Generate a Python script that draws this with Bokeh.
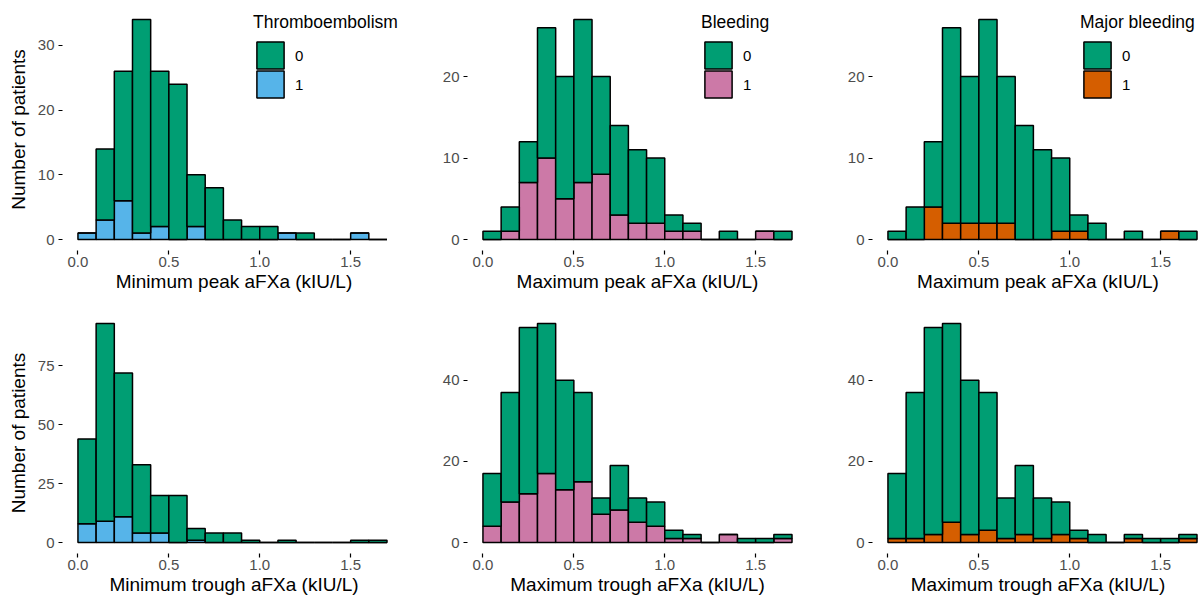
import numpy as np
from bokeh.plotting import figure
from bokeh.layouts import column, row
from bokeh.models import Range1d, FixedTicker, PrintfTickFormatter, Legend, LegendItem, ColumnDataSource
from bokeh.embed import file_html
from bokeh.resources import INLINE

# ---------------- data ----------------
bin_left = [0.0, 0.1, 0.2, 0.3, 0.4, 0.5, 0.6, 0.7, 0.8, 0.9, 1.0, 1.1, 1.2, 1.3, 1.4, 1.5, 1.6]
bin_width = 0.1
x_ticks = [0.0, 0.5, 1.0, 1.5]

# Minimum peak aFXa, Thromboembolism
min_peak_te0 = [0, 11, 20, 33, 24, 24, 8, 8, 3, 2, 2, 0, 1, 0, 0, 0, 0]
min_peak_te1 = [1, 3, 6, 1, 2, 0, 2, 0, 0, 0, 0, 1, 0, 0, 0, 1, 0]
# Maximum peak aFXa, Bleeding
max_peak_bl0 = [1, 3, 5, 16, 15, 20, 12, 11, 9, 8, 2, 1, 0, 1, 0, 0, 1]
max_peak_bl1 = [0, 1, 7, 10, 5, 7, 8, 3, 2, 2, 1, 1, 0, 0, 0, 1, 0]
# Maximum peak aFXa, Major bleeding
max_peak_mb0 = [1, 4, 8, 24, 18, 25, 18, 14, 11, 9, 2, 2, 0, 1, 0, 0, 1]
max_peak_mb1 = [0, 0, 4, 2, 2, 2, 2, 0, 0, 1, 1, 0, 0, 0, 0, 1, 0]
# Minimum trough aFXa, Thromboembolism
min_trough_te0 = [36, 84, 61, 29, 16, 20, 5, 4, 4, 1, 0, 1, 0, 0, 0, 1, 1]
min_trough_te1 = [8, 9, 11, 4, 4, 0, 1, 0, 0, 0, 0, 0, 0, 0, 0, 0, 0]
# Maximum trough aFXa, Bleeding
max_trough_bl0 = [13, 27, 41, 37, 27, 22, 4, 11, 6, 6, 2, 1, 0, 0, 1, 1, 1]
max_trough_bl1 = [4, 10, 12, 17, 13, 15, 7, 8, 5, 4, 1, 1, 0, 2, 0, 0, 1]
# Maximum trough aFXa, Major bleeding
max_trough_mb0 = [16, 36, 51, 49, 38, 34, 10, 17, 10, 8, 2, 2, 0, 1, 1, 1, 1]
max_trough_mb1 = [1, 1, 2, 5, 2, 3, 1, 2, 1, 2, 1, 0, 0, 1, 0, 0, 1]

y_ticks_r1c1 = [0, 10, 20, 30]
y_ticks_r1c2 = [0, 10, 20]
y_ticks_r2c1 = [0, 25, 50, 75]
y_ticks_r2c2 = [0, 20, 40]

legend_labels = ["0", "1"]
outcome_titles = ["Thromboembolism", "Bleeding", "Major bleeding"]
x_titles = ["Minimum peak aFXa (kIU/L)", "Maximum peak aFXa (kIU/L)", "Maximum peak aFXa (kIU/L)",
            "Minimum trough aFXa (kIU/L)", "Maximum trough aFXa (kIU/L)", "Maximum trough aFXa (kIU/L)"]
y_title = "Number of patients"

# ---------------- style ----------------
GREEN = "#009E73"
BLUE = "#56B4E9"
PINK = "#CC79A7"
ORANGE = "#D55E00"
FONT = "Liberation Sans"
PX_PER_UNIT = 181.8
X_MAX = 1.7


def legend_common():
    return dict(label_text_font=FONT, label_text_font_size="15px", label_text_color="black",
                glyph_width=34, glyph_height=34, spacing=0,
                label_standoff=8, padding=0, margin=0,
                border_line_color=None, background_fill_alpha=0)


def make_panel(g0, g1, fill1, xlabel, ylabel, yticks, width, height, mb_left, mb_right, mb_top, mb_bottom,
               legend_title=None, legend_x=None, legend_y=None):
    g0 = np.array(g0, dtype=float)
    g1 = np.array(g1, dtype=float)
    total = g0 + g1
    ymax = total.max()
    xs = np.array(bin_left) + bin_width / 2
    frame_w = width - mb_left - mb_right
    x_start = -0.05 * X_MAX
    x_end = x_start + frame_w / PX_PER_UNIT
    p = figure(width=width, height=height,
               x_range=Range1d(x_start, x_end),
               y_range=Range1d(-0.05 * ymax, 1.05 * ymax),
               output_backend="svg", toolbar_location=None,
               min_border_left=mb_left, min_border_right=mb_right,
               min_border_top=mb_top, min_border_bottom=mb_bottom)
    p.outline_line_color = None
    p.xgrid.visible = False
    p.ygrid.visible = False
    p.background_fill_color = "white"

    src = ColumnDataSource(dict(x=xs, b1=np.zeros_like(g1), t1=g1, b0=g1, t0=total))
    r1 = p.vbar(x="x", width=bin_width, bottom="b1", top="t1", source=src,
                fill_color=fill1, line_color="black", line_width=1.5)
    r0 = p.vbar(x="x", width=bin_width, bottom="b0", top="t0", source=src,
                fill_color=GREEN, line_color="black", line_width=1.5)

    for ax in (p.xaxis[0], p.yaxis[0]):
        ax.axis_line_color = None
        ax.major_tick_line_color = "black"
        ax.major_tick_line_width = 1.2
        ax.major_tick_in = 0
        ax.major_tick_out = 4
        ax.minor_tick_line_color = None
        ax.major_label_text_font = FONT
        ax.major_label_text_font_size = "15px"
        ax.major_label_text_color = "#4D4D4D"
        ax.axis_label_text_font = FONT
        ax.axis_label_text_font_size = "19px"
        ax.axis_label_text_font_style = "normal"
        ax.axis_label_text_color = "black"

    p.xaxis.ticker = FixedTicker(ticks=x_ticks)
    p.xaxis.formatter = PrintfTickFormatter(format="%.1f")
    p.xaxis.axis_label = xlabel
    p.xaxis.major_label_standoff = 2
    p.xaxis.axis_label_standoff = 1

    p.yaxis.ticker = FixedTicker(ticks=yticks)
    p.yaxis.major_label_standoff = 4
    p.yaxis.axis_label_standoff = 6
    if ylabel:
        p.yaxis.axis_label = ylabel

    if legend_title is not None:
        leg_a = Legend(items=[LegendItem(label=legend_labels[0], renderers=[r0])],
                       location=(legend_x, legend_y), title=legend_title,
                       title_text_font=FONT, title_text_font_size="17.5px",
                       title_text_font_style="normal", title_text_color="black",
                       title_standoff=5, **legend_common())
        leg_b = Legend(items=[LegendItem(label=legend_labels[1], renderers=[r1])],
                       location=(legend_x, legend_y - 29), **legend_common())
        p.add_layout(leg_a)
        p.add_layout(leg_b)
    return p


W1, W2, W3 = 432, 378, 393
L1, L2, L3 = 62, 35, 62
R1, R2, R3 = 27, 3, 0
H1, H2 = 298, 301

p1 = make_panel(min_peak_te0, min_peak_te1, BLUE, x_titles[0], y_title, y_ticks_r1c1,
                W1, H1, L1, R1, 8, 48, outcome_titles[0], 191, 178)
p2 = make_panel(max_peak_bl0, max_peak_bl1, PINK, x_titles[1], None, y_ticks_r1c2,
                W2, H1, L2, R2, 8, 48, outcome_titles[1], 234, 178)
p3 = make_panel(max_peak_mb0, max_peak_mb1, ORANGE, x_titles[2], None, y_ticks_r1c2,
                W3, H1, L3, R3, 8, 48, outcome_titles[2], 208, 178)
p4 = make_panel(min_trough_te0, min_trough_te1, BLUE, x_titles[3], y_title, y_ticks_r2c1,
                W1, H2, L1, R1, 14, 46)
p5 = make_panel(max_trough_bl0, max_trough_bl1, PINK, x_titles[4], None, y_ticks_r2c2,
                W2, H2, L2, R2, 14, 46)
p6 = make_panel(max_trough_mb0, max_trough_mb1, ORANGE, x_titles[5], None, y_ticks_r2c2,
                W3, H2, L3, R3, 14, 46)

layout = column(row(p1, p2, p3, spacing=0), row(p4, p5, p6, spacing=0), spacing=0)

with open("out.html", "w") as f:
    f.write(file_html(layout, INLINE))
